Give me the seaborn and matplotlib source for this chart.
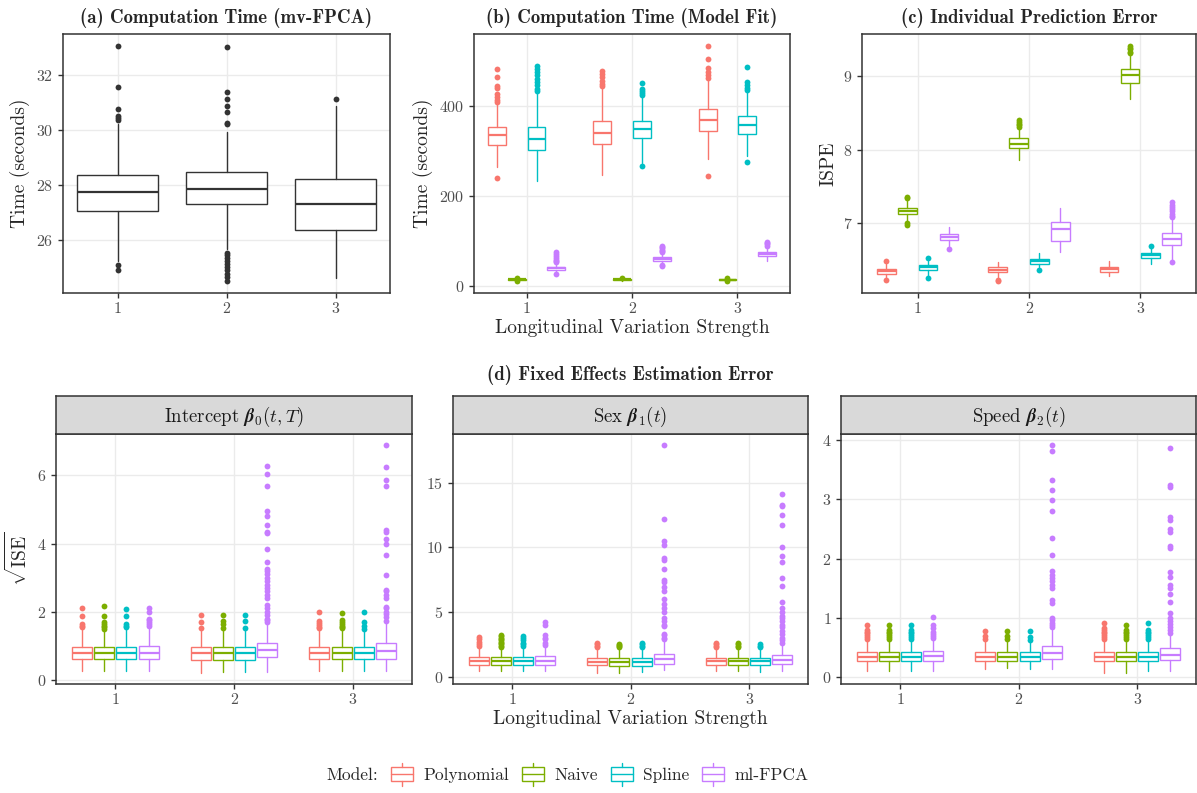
"""
Simulation summary figure: computation time, prediction error and
fixed-effect estimation error by longitudinal variation strength.
"""
import matplotlib
matplotlib.use("Agg")
import matplotlib.pyplot as plt
import seaborn as sns
from matplotlib.legend_handler import HandlerBase
from matplotlib.lines import Line2D
from matplotlib.patches import Patch, Rectangle
from matplotlib.ticker import MultipleLocator


# ── Data ([model][strength] for panels b-d) ──────────────────────────────────

STRENGTHS = [1, 2, 3]
MODELS    = ["Polynomial", "Naive", "Spline", "ml-FPCA"]
COLORS    = ["#F8766D", "#7CAE00", "#00BFC4", "#C77CFF"]

# (a) mv-FPCA computation time, one box per strength
A_Q1  = [27.05, 27.30, 26.35]
A_MED = [27.72, 27.85, 27.28]
A_Q3  = [28.35, 28.45, 28.20]
A_LO  = [25.21, 25.64, 24.60]
A_HI  = [30.20, 29.94, 30.87]
A_FLIERS = [
    [24.88, 25.07, 30.36, 30.45, 30.50, 30.76, 31.55, 33.07],
    [24.48, 24.62, 24.75, 24.88, 25.00, 25.12, 25.22, 25.32, 25.42, 25.52,
     30.20, 30.27, 30.66, 30.88, 31.14, 31.38, 33.03],
    [31.13],
]

# (b) model fit computation time
B_Q1  = [[313, 315, 343], [13, 13, 12], [301, 329, 337], [36, 56, 67]]
B_MED = [[334, 339, 369], [14, 14, 13], [325, 348, 356], [39, 60, 71]]
B_Q3  = [[352, 367, 393], [15, 15, 14], [353, 367, 376], [42, 63, 76]]
B_LO  = [[264, 246, 281], [11, 11, 10], [233, 273, 288], [30, 48, 56]]
B_HI  = [[405, 440, 460], [17, 17, 16], [430, 420, 432], [50, 70, 86]]
B_FLIERS = [
    [[240, 407, 413, 420, 426, 439, 444, 463, 482],
     [444, 449, 455, 463, 470, 478],
     [243, 461, 468, 475, 483, 503, 533]],
    [[10, 18], [17], [10, 17]],
    [[433, 438, 445, 452, 460, 467, 475, 481, 487],
     [266, 424, 429, 433, 438, 450],
     [275, 435, 440, 445, 452, 485]],
    [[27, 52, 55, 58, 62, 66, 70, 75],
     [43, 46, 74, 77, 80, 83, 86, 89],
     [89, 92, 95, 98]],
]

# (c) individual prediction error (ISPE)
C_Q1  = [[6.31, 6.33, 6.34], [7.12, 8.02, 8.91], [6.36, 6.45, 6.53], [6.77, 6.75, 6.70]]
C_MED = [[6.345, 6.365, 6.37], [7.16, 8.08, 9.01], [6.40, 6.48, 6.57], [6.81, 6.92, 6.79]]
C_Q3  = [[6.38, 6.40, 6.40], [7.20, 8.15, 9.09], [6.43, 6.51, 6.60], [6.85, 7.01, 6.87]]
C_LO  = [[6.26, 6.27, 6.28], [7.02, 7.86, 8.68], [6.28, 6.40, 6.45], [6.68, 6.61, 6.50]]
C_HI  = [[6.44, 6.47, 6.49], [7.33, 8.30, 9.29], [6.49, 6.59, 6.66], [6.95, 7.20, 7.06]]
C_FLIERS = [
    [[6.22, 6.49], [6.21, 6.23], []],
    [[6.98, 7.00, 7.34, 7.36], [8.31, 8.33, 8.35, 8.37, 8.40], [9.31, 9.33, 9.36, 9.38, 9.41]],
    [[6.25, 6.52], [6.36], [6.69]],
    [[6.65], [], [6.47, 7.08, 7.10, 7.13, 7.16, 7.19, 7.22, 7.25, 7.28]],
]

# (d) sqrt(ISE) of the fixed effects: intercept, sex, speed
D0_Q1  = [[0.61, 0.60, 0.61], [0.61, 0.60, 0.61], [0.61, 0.60, 0.61], [0.61, 0.68, 0.63]]
D0_MED = [[0.79, 0.79, 0.79], [0.79, 0.79, 0.79], [0.79, 0.79, 0.79], [0.80, 0.88, 0.84]]
D0_Q3  = [[0.97, 0.97, 0.97], [0.96, 0.97, 0.97], [0.97, 0.97, 0.97], [1.00, 1.08, 1.08]]
D0_LO  = [[0.27, 0.22, 0.27], [0.27, 0.25, 0.27], [0.28, 0.24, 0.27], [0.28, 0.25, 0.27]]
D0_HI  = [[1.50, 1.50, 1.50], [1.48, 1.50, 1.50], [1.50, 1.50, 1.50], [1.50, 1.65, 1.70]]
D0_FLIERS = [
    [[1.55, 1.60, 1.65, 1.87, 2.10], [1.53, 1.70, 1.90], [1.52, 1.57, 1.62, 1.68, 1.74, 2.00]],
    [[1.50, 1.55, 1.60, 1.65, 1.70, 1.87, 2.18], [1.53, 1.65, 1.72, 1.92],
     [1.52, 1.56, 1.60, 1.65, 1.70, 1.75, 1.98]],
    [[1.55, 1.60, 1.65, 1.87, 2.09], [1.53, 1.72, 1.90], [1.50, 1.60, 1.70, 2.00]],
    [[1.60, 1.65, 1.70, 1.75, 1.80, 2.00, 2.12],
     [1.70, 1.75, 1.80, 1.90, 2.00, 2.10, 2.20, 2.40, 2.50, 2.60, 2.70, 2.80, 2.90, 3.00,
      3.10, 3.20, 3.25, 3.45, 3.85, 4.30, 4.35, 4.55, 4.80, 4.95, 5.70, 6.05, 6.28],
     [1.72, 1.85, 1.95, 2.00, 2.10, 2.15, 2.40, 2.50, 2.60, 2.65, 3.07, 3.67, 3.98, 4.15,
      4.35, 4.40, 5.70, 5.87, 6.25, 6.88]],
]

D1_Q1  = [[0.87, 0.87, 0.90], [0.87, 0.85, 0.90], [0.87, 0.85, 0.90], [0.93, 1.00, 1.00]]
D1_MED = [[1.20, 1.13, 1.18], [1.20, 1.12, 1.20], [1.20, 1.13, 1.18], [1.23, 1.36, 1.30]]
D1_Q3  = [[1.51, 1.40, 1.45], [1.51, 1.40, 1.47], [1.51, 1.40, 1.45], [1.55, 1.74, 1.63]]
D1_LO  = [[0.43, 0.30, 0.40], [0.40, 0.30, 0.40], [0.40, 0.35, 0.38], [0.40, 0.50, 0.40]]
D1_HI  = [[2.30, 2.20, 2.25], [2.30, 2.20, 2.30], [2.30, 2.20, 2.25], [2.40, 2.80, 2.60]]
D1_FLIERS = [
    [[2.35, 2.50, 2.70, 2.90, 3.05], [2.30, 2.40, 2.50, 2.60], [2.30, 2.40, 2.50, 2.60]],
    [[2.30, 2.40, 2.50, 2.60, 2.70, 2.80, 2.90, 3.00, 3.10, 3.25], [2.25, 2.35, 2.45, 2.50],
     [2.30, 2.40, 2.50, 2.60]],
    [[2.35, 2.50, 2.60, 2.80, 2.95, 3.10], [2.30, 2.40, 2.50, 2.60], [2.30, 2.40, 2.50]],
    [[2.45, 2.60, 2.90, 3.00, 3.20, 4.00, 4.20],
     [2.90, 3.00, 3.20, 3.30, 3.90, 4.00, 4.30, 4.50, 5.00, 5.30, 5.60, 6.00, 6.60, 6.90,
      7.30, 7.50, 8.30, 9.00, 9.20, 10.20, 10.50, 12.20, 17.90],
     [2.60, 2.80, 3.00, 3.30, 3.50, 3.80, 4.00, 4.30, 4.50, 4.70, 5.00, 5.30, 5.80, 7.00,
      7.60, 8.90, 9.30, 10.00, 11.70, 12.50, 13.20, 13.30, 14.10]],
]

D2_Q1  = [[0.27, 0.28, 0.27], [0.27, 0.28, 0.27], [0.27, 0.28, 0.27], [0.28, 0.31, 0.30]]
D2_MED = [[0.345, 0.35, 0.35], [0.345, 0.35, 0.35], [0.345, 0.35, 0.35], [0.36, 0.41, 0.38]]
D2_Q3  = [[0.42, 0.43, 0.43], [0.42, 0.43, 0.43], [0.42, 0.43, 0.43], [0.44, 0.53, 0.49]]
D2_LO  = [[0.10, 0.14, 0.08], [0.10, 0.15, 0.08], [0.10, 0.14, 0.10], [0.10, 0.14, 0.10]]
D2_HI  = [[0.64, 0.64, 0.64], [0.64, 0.64, 0.64], [0.64, 0.63, 0.64], [0.66, 0.80, 0.73]]
D2_FLIERS = [
    [[0.65, 0.68, 0.71, 0.74, 0.77, 0.80, 0.88], [0.65, 0.70, 0.79],
     [0.65, 0.68, 0.71, 0.74, 0.77, 0.80, 0.83, 0.92]],
    [[0.65, 0.68, 0.71, 0.74, 0.77, 0.80, 0.88], [0.65, 0.70, 0.78],
     [0.65, 0.68, 0.71, 0.74, 0.77, 0.80, 0.89]],
    [[0.65, 0.68, 0.71, 0.74, 0.77, 0.80, 0.89], [0.63, 0.68, 0.78],
     [0.65, 0.68, 0.71, 0.74, 0.77, 0.80, 0.92]],
    [[0.67, 0.70, 0.73, 0.77, 0.83, 0.88, 1.02],
     [0.85, 0.88, 0.92, 0.96, 1.00, 1.25, 1.30, 1.50, 1.55, 1.62, 1.67, 1.72, 1.80, 2.07,
      2.35, 2.80, 2.99, 3.15, 3.32, 3.82, 3.91],
     [0.75, 0.80, 0.85, 0.90, 0.95, 1.00, 1.08, 1.27, 1.40, 1.50, 1.55, 1.70, 1.78, 2.18,
      2.22, 2.45, 2.50, 2.65, 2.70, 3.20, 3.25, 3.87]],
]

STRIP_LABELS = [r"Intercept $\boldsymbol{\beta}_0(t, T)$",
                r"Sex $\boldsymbol{\beta}_1(t)$",
                r"Speed $\boldsymbol{\beta}_2(t)$"]
XLABEL = "Longitudinal Variation Strength"

DARK = "#333333"
TICK = "#4D4D4D"
GRID = "#EBEBEB"


# ── Helpers ──────────────────────────────────────────────────────────────────

def make_stats(q1, med, q3, lo, hi, fliers):
    return [dict(q1=a, med=b, q3=c, whislo=d, whishi=e, fliers=f)
            for a, b, c, d, e, f in zip(q1, med, q3, lo, hi, fliers)]


def draw_boxes(ax, stats, positions, width, color):
    ax.bxp(stats, positions=positions, widths=width, showcaps=False,
           patch_artist=True, manage_ticks=False,
           boxprops=dict(facecolor="white", edgecolor=color, linewidth=1.0),
           medianprops=dict(color=color, linewidth=1.6, solid_capstyle="butt"),
           whiskerprops=dict(color=color, linewidth=1.0),
           flierprops=dict(marker="o", markerfacecolor=color, markeredgecolor="none",
                           markersize=4.2))


def y_limits(lo, hi, fliers):
    vals = [v for row in lo for v in (row if isinstance(row, list) else [row])]
    vals += [v for row in hi for v in (row if isinstance(row, list) else [row])]
    flat = []
    for f in fliers:
        for g in f:
            flat.extend(g if isinstance(g, list) else [g])
    vals += flat
    span = max(vals) - min(vals)
    return min(vals) - 0.05 * span, max(vals) + 0.05 * span


def grouped_panel(ax, q1, med, q3, lo, hi, fliers):
    step = 0.75 / len(MODELS)
    for m, color in enumerate(COLORS):
        offset = (m - (len(MODELS) - 1) / 2) * step
        stats = make_stats(q1[m], med[m], q3[m], lo[m], hi[m], fliers[m])
        draw_boxes(ax, stats, [s + offset for s in STRENGTHS], step * 0.9, color)
    ax.set_ylim(*y_limits(lo, hi, fliers))


def style_axes(ax, major):
    ax.set_xlim(0.5, 3.5)
    ax.set_xticks(STRENGTHS)
    ax.set_xticklabels([str(s) for s in STRENGTHS])
    ax.yaxis.set_major_locator(MultipleLocator(major))
    ax.set_facecolor("white")
    ax.grid(True, color=GRID, linewidth=1.0)
    ax.set_axisbelow(True)
    for sp in ax.spines.values():
        sp.set_color(DARK)
        sp.set_linewidth(1.1)
        sp.set_visible(True)
    ax.tick_params(axis="both", colors=DARK, labelcolor=TICK, labelsize=11.5,
                   length=3.5, width=1.0, direction="out", left=True, bottom=True)


class BoxHandler(HandlerBase):
    def create_artists(self, legend, orig_handle, xdescent, ydescent,
                       width, height, fontsize, trans):
        c = orig_handle.get_edgecolor()
        x0, y0 = -xdescent, -ydescent
        box = Rectangle((x0, y0 + 0.0 * height), width, 1.0 * height,
                        facecolor="white", edgecolor=c, linewidth=1.0, transform=trans)
        med = Line2D([x0, x0 + width], [y0 + 0.5 * height] * 2, color=c,
                     linewidth=1.0, transform=trans)
        xm = x0 + width / 2
        top = Line2D([xm, xm], [y0 + 1.0 * height, y0 + 1.3 * height], color=c,
                     linewidth=1.0, transform=trans)
        bot = Line2D([xm, xm], [y0 - 0.3 * height, y0], color=c,
                     linewidth=1.0, transform=trans)
        return [box, med, top, bot]


# ── Main ─────────────────────────────────────────────────────────────────────

def main():
    sns.set_theme(style="whitegrid")
    plt.rcParams["font.family"] = ["cmr10", "DejaVu Serif"]
    plt.rcParams["mathtext.fontset"] = "cm"
    plt.rcParams["axes.formatter.use_mathtext"] = True
    plt.rcParams["axes.unicode_minus"] = False

    fig = plt.figure(figsize=(11.97, 7.93), dpi=100)
    W, H = 1197, 793

    def add_ax(left, top, right, bottom):
        return fig.add_axes([left / W, 1 - bottom / H, (right - left) / W, (bottom - top) / H])

    title_kw = dict(fontsize=13.5, family=["cmb10", "DejaVu Serif"], pad=8)
    label_kw = dict(fontsize=14)

    # (a) mv-FPCA computation time
    ax_a = add_ax(63, 34, 390, 293)
    draw_boxes(ax_a, make_stats(A_Q1, A_MED, A_Q3, A_LO, A_HI, A_FLIERS),
               STRENGTHS, 0.75, DARK)
    ax_a.set_ylim(*y_limits(A_LO, A_HI, [A_FLIERS]))
    style_axes(ax_a, 2)
    ax_a.set_title("(a) Computation Time (mv-FPCA)", **title_kw)
    ax_a.set_ylabel("Time (seconds)", **label_kw)

    # (b) model fit computation time
    ax_b = add_ax(474, 34, 790, 293)
    grouped_panel(ax_b, B_Q1, B_MED, B_Q3, B_LO, B_HI, B_FLIERS)
    style_axes(ax_b, 200)
    ax_b.set_title("(b) Computation Time (Model Fit)", **title_kw)
    ax_b.set_ylabel("Time (seconds)", **label_kw)
    ax_b.set_xlabel(XLABEL, **label_kw, labelpad=2)

    # (c) ISPE
    ax_c = add_ax(862, 34, 1196, 293)
    grouped_panel(ax_c, C_Q1, C_MED, C_Q3, C_LO, C_HI, C_FLIERS)
    style_axes(ax_c, 1)
    ax_c.set_title("(c) Individual Prediction Error", **title_kw)
    ax_c.set_ylabel("ISPE", **label_kw)

    # (d) fixed effects, faceted with strips
    d_sets = [
        (D0_Q1, D0_MED, D0_Q3, D0_LO, D0_HI, D0_FLIERS, 2),
        (D1_Q1, D1_MED, D1_Q3, D1_LO, D1_HI, D1_FLIERS, 5),
        (D2_Q1, D2_MED, D2_Q3, D2_LO, D2_HI, D2_FLIERS, 1),
    ]
    d_bounds = [(56, 412), (453, 808), (841, 1196)]
    for i, ((q1, med, q3, lo, hi, fl, major), (left, right)) in enumerate(zip(d_sets, d_bounds)):
        ax = add_ax(left, 434, right, 684)
        grouped_panel(ax, q1, med, q3, lo, hi, fl)
        style_axes(ax, major)
        strip = add_ax(left, 396, right, 434)
        strip.set_facecolor("#D9D9D9")
        strip.set_xticks([])
        strip.set_yticks([])
        strip.grid(False)
        for sp in strip.spines.values():
            sp.set_color(DARK)
            sp.set_linewidth(1.1)
            sp.set_visible(True)
        strip.text(0.5, 0.45, STRIP_LABELS[i], ha="center", va="center",
                   fontsize=13.5, color="#1A1A1A", transform=strip.transAxes)
        if i == 0:
            ax.set_ylabel(r"$\sqrt{\mathrm{ISE}}$", **label_kw)
        if i == 1:
            ax.set_xlabel(XLABEL, **label_kw, labelpad=2)

    fig.text(630 / W, 1 - 375 / H, "(d) Fixed Effects Estimation Error",
             ha="center", va="center", fontsize=13.5, family=["cmb10", "DejaVu Serif"])

    # Legend
    handles = [Patch(facecolor="white", edgecolor=c) for c in COLORS]
    fig.legend(handles, MODELS, handler_map={Patch: BoxHandler()},
               loc="center", bbox_to_anchor=(600 / W, 1 - 775 / H), ncol=4,
               frameon=False, fontsize=12.5, handlelength=1.25, handleheight=0.9,
               handletextpad=0.6, columnspacing=0.75, borderpad=0.1)
    fig.text(378 / W, 1 - 775 / H, "Model:", ha="right", va="center", fontsize=12.5)

    fig.savefig("out.png", dpi=100, facecolor="white")
    plt.close(fig)


if __name__ == "__main__":
    main()
